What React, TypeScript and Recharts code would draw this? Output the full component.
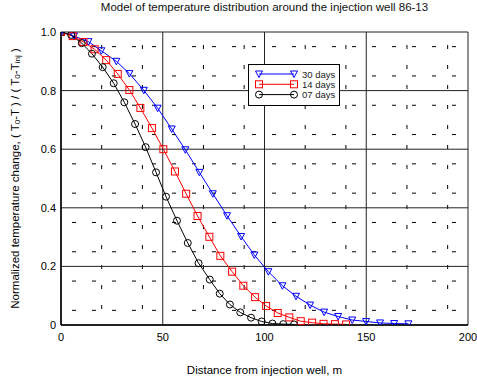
import React from "react";
import { LineChart, Line, XAxis, YAxis, CartesianGrid, Legend, Label } from "recharts";

const title = "Model of temperature distribution around the injection well 86-13";
const xLabel = "Distance from injection well, m";

const xTicks = [0, 50, 100, 150, 200];
const yTicks = [0, 0.2, 0.4, 0.6, 0.8, 1.0];
const yTickLabels = ["0", "0.2", "0.4", "0.6", "0.8", "1.0"];
const xMinor = [10, 20, 30, 40, 60, 70, 80, 90, 110, 120, 130, 140, 160, 170, 180, 190];
const yMinor = [0.05, 0.1, 0.15, 0.25, 0.3, 0.35, 0.45, 0.5, 0.55, 0.65, 0.7, 0.75, 0.85, 0.9, 0.95];
const xAllMinor = [0, 10, 20, 30, 40, 50, 60, 70, 80, 90, 100, 110, 120, 130, 140, 150, 160, 170, 180, 190, 200];
const yAllMinor = [0, 0.05, 0.1, 0.15, 0.2, 0.25, 0.3, 0.35, 0.4, 0.45, 0.5, 0.55, 0.6, 0.65, 0.7, 0.75, 0.8, 0.85, 0.9, 0.95, 1.0];

const days30X = [0, 6.4, 13.5, 19.8, 27.2, 33.6, 40.7, 47.5, 54.4, 61.1, 68.0, 74.6, 81.6, 88.5, 95.0, 101.9, 108.8, 115.5, 122.4, 129.3, 136.2, 143.1, 149.9, 156.8, 163.7, 170.7];
const days30Y = [1.0, 0.986, 0.967, 0.936, 0.9, 0.858, 0.801, 0.74, 0.669, 0.598, 0.521, 0.448, 0.373, 0.302, 0.239, 0.182, 0.134, 0.098, 0.068, 0.044, 0.029, 0.017, 0.012, 0.007, 0.005, 0.004];

const days14X = [0, 5.7, 11.0, 16.5, 22.2, 27.9, 33.6, 39.0, 44.7, 50.3, 56.0, 61.5, 67.1, 72.9, 78.3, 84.1, 89.6, 95.4, 100.8, 106.5, 112.2, 117.8, 123.4, 129.0, 134.6, 140.1];
const days14Y = [1.0, 0.986, 0.966, 0.941, 0.904, 0.857, 0.802, 0.741, 0.672, 0.6, 0.524, 0.448, 0.372, 0.301, 0.236, 0.182, 0.134, 0.095, 0.065, 0.041, 0.026, 0.013, 0.008, 0.004, 0.003, 0.002];

const days07X = [0, 5.0, 10.2, 15.2, 20.5, 25.9, 31.1, 36.4, 41.6, 46.7, 51.6, 57.0, 62.3, 67.6, 73.1, 78.0, 83.0, 88.1, 93.4, 98.6, 103.9, 109.2, 114.5];
const days07Y = [1.0, 0.99, 0.962, 0.926, 0.88, 0.825, 0.76, 0.686, 0.607, 0.521, 0.438, 0.356, 0.28, 0.211, 0.155, 0.107, 0.07, 0.043, 0.025, 0.012, 0.005, 0.003, 0.002];

const zip = (xs: number[], ys: number[]) => xs.map((x, i) => ({ x, y: ys[i] }));

type Shape = "tri" | "sq" | "circ";
const series: { name: string; color: string; shape: Shape; data: { x: number; y: number }[] }[] = [
  { name: "30 days", color: "#0000ff", shape: "tri", data: zip(days30X, days30Y) },
  { name: "14 days", color: "#ff0000", shape: "sq", data: zip(days14X, days14Y) },
  { name: "07 days", color: "#000000", shape: "circ", data: zip(days07X, days07Y) },
];

const FONT = "'Liberation Sans', Arial, sans-serif";

function marker(shape: Shape, cx: number, cy: number, color: string, key?: any) {
  if (shape === "tri") {
    const pts = `${cx - 3.5},${cy - 3} ${cx + 3.5},${cy - 3} ${cx},${cy + 3.5}`;
    return <polygon key={key} points={pts} fill="none" stroke={color} strokeWidth={1} />;
  }
  if (shape === "sq") {
    return <rect key={key} x={cx - 3.5} y={cy - 3.5} width={7} height={7} fill="none" stroke={color} strokeWidth={1} />;
  }
  return <circle key={key} cx={cx} cy={cy} r={3.5} fill="none" stroke={color} strokeWidth={1} />;
}

const makeDot = (shape: Shape, color: string) => (props: any) => {
  const { cx, cy, index } = props;
  if (cx == null || cy == null) return <g key={index} />;
  return marker(shape, cx, cy, color, index);
};

const minorTick = (dx: number, dy: number) => (props: any) => {
  const { x, y, index } = props;
  return <line key={index} x1={x} y1={y} x2={x + dx} y2={y + dy} stroke="#000" strokeWidth={1} />;
};

const LegendBox = () => (
  <svg width={92} height={42} style={{ display: "block" }}>
    <rect x={0.5} y={0.5} width={91} height={41} fill="#fff" stroke="#000" strokeWidth={1} />
    {series.map((s, i) => {
      const y = 10 + i * 10.3;
      return (
        <g key={s.name}>
          <line x1={11} y1={y} x2={46} y2={y} stroke={s.color} strokeWidth={1} />
          {marker(s.shape, 11, y, s.color)}
          {marker(s.shape, 46, y, s.color)}
          <text x={54} y={y} dominantBaseline="central" fontSize={9.5} fontFamily={FONT} fill="#222">
            {s.name}
          </text>
        </g>
      );
    })}
  </svg>
);

const YTitle = (props: any) => {
  const vb = props.viewBox || { x: 0, y: 0, width: 0, height: 0 };
  const cy = vb.y + vb.height / 2;
  const cx = 15;
  return (
    <text
      x={cx}
      y={cy}
      transform={`rotate(-90 ${cx} ${cy})`}
      textAnchor="middle"
      dominantBaseline="central"
      fontSize={11.5}
      fontFamily={FONT}
      fill="#000"
    >
      Normalized temperature change, ( T
      <tspan fontSize={8} dy={2}>0</tspan>
      <tspan dy={-2}>-T ) / ( T</tspan>
      <tspan fontSize={8} dy={2}>0</tspan>
      <tspan dy={-2}>-T</tspan>
      <tspan fontSize={8} dy={2}>inj</tspan>
      <tspan dy={-2}> )</tspan>
    </text>
  );
};

export default function App() {
  return (
    <div style={{ position: "absolute", left: 0, top: 0, width: 477, height: 383, background: "#fff" }}>
      <div
        style={{
          position: "absolute",
          left: 61,
          top: 0,
          width: 407,
          textAlign: "center",
          fontFamily: FONT,
          fontSize: 11.5,
          lineHeight: "14px",
          color: "#111",
        }}
      >
        {title}
      </div>
      <LineChart width={477} height={383} margin={{ top: 32, right: 9, bottom: 28, left: 21 }}>
        <CartesianGrid
          horizontal={true}
          vertical={false}
          horizontalValues={yMinor}
          stroke="#000"
          strokeWidth={1}
          strokeDasharray="4 16"
          strokeDashoffset={9}
        />
        <CartesianGrid
          horizontal={false}
          vertical={true}
          verticalValues={xMinor}
          stroke="#000"
          strokeWidth={1}
          strokeDasharray="4 16"
          strokeDashoffset={7}
        />
        <CartesianGrid
          horizontalValues={yTicks}
          verticalValues={xTicks}
          stroke="#222"
          strokeWidth={1}
        />
        <XAxis
          dataKey="x"
          type="number"
          domain={[0, 200]}
          ticks={xTicks}
          allowDataOverflow
          height={30}
          tickSize={0}
          tickMargin={8}
          axisLine={{ stroke: "#000", strokeWidth: 1.5 }}
          tick={{ fontSize: 11, fontFamily: FONT, fill: "#000" }}
        >
          <Label
            value={xLabel}
            position="bottom"
            offset={0}
            content={(p: any) => {
              const vb = p.viewBox;
              return (
                <text x={vb.x + vb.width / 2} y={370} textAnchor="middle" dominantBaseline="central" fontSize={11.5} fontFamily={FONT} fill="#000">
                  {xLabel}
                </text>
              );
            }}
          />
        </XAxis>
        <XAxis
          xAxisId="bottomMinor"
          type="number"
          domain={[0, 200]}
          ticks={xAllMinor}
          height={0}
          tickSize={0}
          tickMargin={0}
          axisLine={false}
          tickLine={false}
          tick={minorTick(0, -4)}
        />
        <XAxis
          xAxisId="topMinor"
          orientation="top"
          type="number"
          domain={[0, 200]}
          ticks={xAllMinor}
          height={0}
          tickSize={0}
          tickMargin={0}
          axisLine={{ stroke: "#000", strokeWidth: 1.2 }}
          tickLine={false}
          tick={minorTick(0, 4)}
        />
        <YAxis
          type="number"
          domain={[0, 1]}
          ticks={yTicks}
          width={40}
          tickSize={0}
          tickMargin={5}
          allowDataOverflow
          axisLine={{ stroke: "#000", strokeWidth: 1.5 }}
          tickFormatter={(v: number) => yTickLabels[yTicks.indexOf(v)] ?? String(v)}
          tick={{ fontSize: 11, fontFamily: FONT, fill: "#000" }}
        >
          <Label content={<YTitle />} />
        </YAxis>
        <YAxis
          yAxisId="leftMinor"
          type="number"
          domain={[0, 1]}
          ticks={yAllMinor}
          width={0}
          tickSize={0}
          tickMargin={0}
          axisLine={false}
          tickLine={false}
          tick={minorTick(4, 0)}
        />
        <YAxis
          yAxisId="rightMinor"
          orientation="right"
          type="number"
          domain={[0, 1]}
          ticks={yAllMinor}
          width={0}
          tickSize={0}
          tickMargin={0}
          axisLine={{ stroke: "#000", strokeWidth: 1.2 }}
          tickLine={false}
          tick={minorTick(-4, 0)}
        />
        {series.map((s) => (
          <Line
            key={s.name}
            data={s.data}
            dataKey="y"
            name={s.name}
            type="linear"
            stroke={s.color}
            strokeWidth={1}
            dot={makeDot(s.shape, s.color)}
            activeDot={false}
            isAnimationActive={false}
          />
        ))}
        <Legend
          layout="horizontal"
          verticalAlign="middle"
          align="center"
          wrapperStyle={{ position: "absolute", left: 248, top: 64, width: 92, height: 42 }}
          content={() => <LegendBox />}
        />
      </LineChart>
    </div>
  );
}
